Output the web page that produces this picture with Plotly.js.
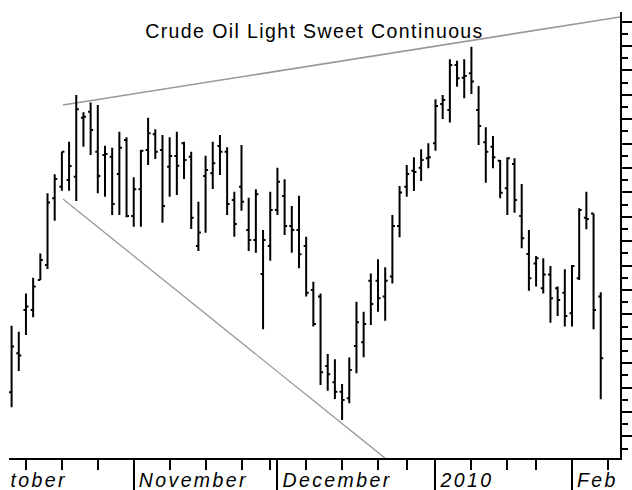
<!DOCTYPE html>
<html><head><meta charset="utf-8">
<script src="https://cdn.plot.ly/plotly-3.0.1.min.js"></script>
<style>
html,body{margin:0;padding:0;background:#fff;}
#chart .gtitle{letter-spacing:1.4px;}
#chart .textpoint text{letter-spacing:2.4px;}
</style>
</head><body>
<div id="chart" style="width:632px;height:490px;"></div>
<script>
// Trading calendar (NYMEX), used as the x axis (one slot per trading day)
const calendarStart = '2009-10-01';
const calendarEnd = '2010-02-08';
const holidays = ['2009-11-26', '2009-12-25', '2010-01-01', '2010-01-18'];
const firstBarDate = '2009-10-08';

// Daily OHLC, one value per trading day from firstBarDate
const opens = [70.81,72.41,74.18,74.18,75.41,76.02,78.76,79.23,79.51,79.64,
  82.06,82.31,80.67,80.53,80.46,79.75,81.15,78.03,79.13,80.74,
  81.38,80.74,80.05,80.49,81.01,80.46,76.80,79.67,79.78,80.90,
  80.67,78.69,79.23,77.46,77.05,75.66,76.80,78.28,78.85,77.62,
  77.46,76.80,75.00,74.73,71.89,71.22,70.83,70.56,72.70,72.86,
  75.38,75.38,74.73,75.55,77.62,79.23,79.89,80.01,80.40,81.01,
  82.62,82.38,84.22,83.70,83.88,82.38,81.05,80.87,80.30,79.17,
  80.16,78.03,76.48,76.09,75.07,75.64,75.07,74.89,74.05,75.48,
  77.96,78.14,74.73];
const highs = [73.54,73.29,74.86,75.50,76.50,78.96,79.74,80.67,81.08,82.99,
  82.28,82.68,82.58,80.91,80.83,81.49,81.26,79.62,80.74,82.06,
  81.59,81.35,81.26,81.49,81.08,80.67,78.62,80.50,81.08,81.35,
  80.85,79.03,80.94,78.78,79.13,77.46,79.03,80.01,79.54,78.44,
  78.86,77.18,75.34,74.86,72.38,72.16,71.15,72.23,74.52,74.11,
  75.68,76.26,75.93,78.07,79.26,80.12,80.44,80.77,81.01,82.82,
  82.99,84.46,84.40,84.46,84.97,83.36,81.67,81.31,80.33,80.44,
  80.40,79.34,77.46,76.39,76.30,75.98,75.14,75.85,76.02,78.35,
  79.03,78.14,74.91];
const lows = [70.19,71.68,73.16,73.88,75.41,75.86,77.84,79.07,79.07,78.65,
  80.87,80.53,78.96,78.82,78.07,78.07,77.98,77.59,77.59,80.12,
  80.37,77.76,78.82,78.89,79.55,77.50,76.60,77.35,79.14,79.71,
  78.07,77.18,78.25,76.60,76.53,73.39,76.20,78.07,77.25,76.53,
  75.89,74.73,73.50,71.11,70.87,70.53,69.67,70.36,71.59,72.24,
  73.57,74.11,73.74,75.27,77.16,78.82,79.06,79.47,79.99,80.71,
  82.01,81.86,83.33,82.86,83.03,80.94,79.40,79.99,78.76,78.07,
  78.17,76.71,74.97,75.14,74.86,73.66,73.93,73.50,73.50,75.41,
  77.49,73.39,70.52];
const closes = [72.68,72.32,74.32,75.14,76.23,78.59,79.55,80.67,80.08,82.41,
  82.10,81.56,79.67,80.57,78.52,80.83,78.03,79.13,80.71,81.42,
  80.67,78.44,80.49,80.09,80.33,77.96,77.36,79.92,80.19,80.67,
  78.52,77.70,78.62,77.05,78.92,77.05,78.28,79.44,77.62,77.46,
  76.46,74.89,73.61,71.63,71.55,70.83,70.49,71.72,73.68,73.61,
  74.43,74.66,75.38,77.62,79.00,79.75,79.84,80.33,80.44,82.54,
  82.79,84.22,83.68,83.77,83.54,81.72,80.67,80.44,78.99,80.40,
  78.69,77.12,75.48,76.30,75.64,74.66,74.59,73.93,75.98,78.28,
  77.91,74.18,72.20];

// Trend lines: bar offset (from firstBarDate) and price at each end
const upperTrendBar = [7.15, 84.68];
const upperTrendPrice = [82.58, 86.19];
const lowerTrendBar = [7.15, 51.97];
const lowerTrendPrice = [78.73, 68.11];

// Axis labels (one per month start in the calendar)
const monthLabels = ['October', 'November', 'December', '2010', 'Feb'];
const chartTitle = 'Crude Oil Light Sweet Continuous';

// ---- build calendar ----
const days = [];
{
  const d = new Date(calendarStart + 'T00:00:00Z');
  const end = new Date(calendarEnd + 'T00:00:00Z');
  while (d <= end) {
    const iso = d.toISOString().slice(0, 10);
    const wd = d.getUTCDay();
    if (wd !== 0 && wd !== 6 && holidays.indexOf(iso) < 0) days.push(iso);
    d.setUTCDate(d.getUTCDate() + 1);
  }
}
const dow = iso => new Date(iso + 'T00:00:00Z').getUTCDay();
const monthStarts = [], weekStarts = [];
days.forEach((iso, i) => {
  if (i === 0) { monthStarts.push(i); return; }
  const p = days[i - 1];
  if (iso.slice(5, 7) !== p.slice(5, 7)) monthStarts.push(i);
  if (dow(iso) < dow(p)) weekStarts.push(i);
});
const first = days.indexOf(firstBarDate);
const barX = opens.map((_, k) => first + k);
const xRange = [first - 0.36, first + 84.68];
const yRange = [68.115, 86.393];
const labelGap = 0.7; // label starts a little after its month tick

const font = 'Liberation Sans, Arial, Helvetica, sans-serif';

const traces = [
  {
    type: 'ohlc', x: barX, open: opens, high: highs, low: lows, close: closes,
    xaxis: 'x', yaxis: 'y', tickwidth: 0.35, hoverinfo: 'skip',
    increasing: {line: {color: '#000', width: 2}},
    decreasing: {line: {color: '#000', width: 2}}
  },
  {
    type: 'scatter', mode: 'text', xaxis: 'x2', yaxis: 'y2',
    x: monthStarts.map(i => i + labelGap), y: monthStarts.map(() => 8.0), text: monthLabels,
    textposition: 'middle right', cliponaxis: true, hoverinfo: 'skip',
    textfont: {family: font, size: 19.5, style: 'italic', color: '#000'}
  }
];

const shapes = [
  {type: 'line', xref: 'x', yref: 'y', layer: 'below',
   x0: first + upperTrendBar[0], x1: first + upperTrendBar[1],
   y0: upperTrendPrice[0], y1: upperTrendPrice[1],
   line: {color: '#999999', width: 1.6}},
  {type: 'line', xref: 'x', yref: 'y', layer: 'below',
   x0: first + lowerTrendBar[0], x1: first + lowerTrendBar[1],
   y0: lowerTrendPrice[0], y1: lowerTrendPrice[1],
   line: {color: '#999999', width: 1.3}}
];

const layout = {
  width: 632, height: 490,
  margin: {l: 9, r: 12, t: 12, b: 0, pad: 0},
  paper_bgcolor: '#fff', plot_bgcolor: 'rgba(0,0,0,0)',
  showlegend: false,
  title: {text: chartTitle, font: {family: font, size: 19.5, color: '#000'},
          x: 0.5, xref: 'paper', xanchor: 'center',
          y: 1 - 31 / 490, yref: 'container', yanchor: 'middle'},
  xaxis: {domain: [0, 1], anchor: 'y', type: 'linear', range: xRange,
          showgrid: false, zeroline: false, showline: true, linecolor: '#000', linewidth: 2,
          ticks: 'outside', tickmode: 'array', tickvals: monthStarts,
          ticklen: 32, tickwidth: 2, tickcolor: '#000', showticklabels: false,
          rangeslider: {visible: false}, fixedrange: true,
          minor: {tickmode: 'array', tickvals: weekStarts, ticks: 'outside',
                  ticklen: 10, tickwidth: 2, tickcolor: '#000', showgrid: false}},
  yaxis: {domain: [32 / 478, 1], anchor: 'x', side: 'right', range: yRange,
          showgrid: false, zeroline: false, showline: true, linecolor: '#000', linewidth: 2,
          ticks: 'outside', tickmode: 'linear', tick0: 0, dtick: 1,
          ticklen: 10, tickwidth: 2, tickcolor: '#000', showticklabels: false, fixedrange: true,
          minor: {tick0: 0, dtick: 0.5, ticks: 'outside', ticklen: 6, tickwidth: 2,
                  tickcolor: '#000', showgrid: false}},
  xaxis2: {domain: [0, 1], anchor: 'y2', range: xRange, visible: false, fixedrange: true},
  yaxis2: {domain: [0, 32 / 478], anchor: 'x2', range: [0, 32], visible: false, fixedrange: true},
  shapes: shapes
};

Plotly.newPlot('chart', traces, layout, {staticPlot: true, displayModeBar: false});
</script>
</body></html>
